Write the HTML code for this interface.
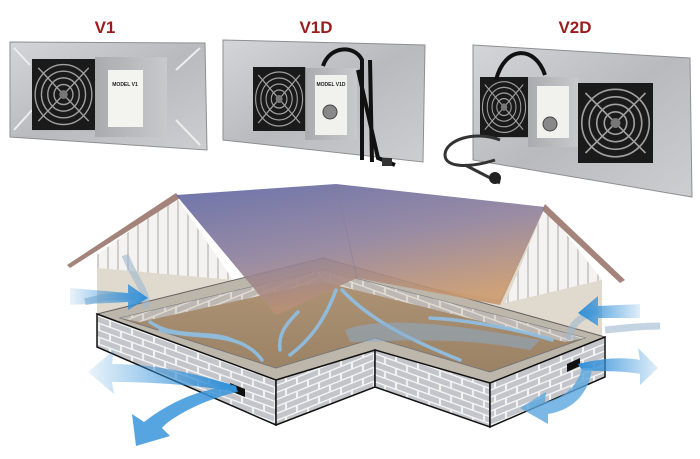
<!DOCTYPE html>
<html><head><style>
html,body{margin:0;padding:0;background:#fff;overflow:hidden;}
svg{display:block}
text{font-family:"Liberation Sans",sans-serif;font-weight:bold;}
</style></head><body>
<svg width="700" height="459" viewBox="0 0 700 459" xmlns="http://www.w3.org/2000/svg">
<defs>
<linearGradient id="plate" x1="0" y1="0" x2="1" y2="1">
<stop offset="0" stop-color="#d4d5d8"/><stop offset="0.5" stop-color="#b8babd"/><stop offset="1" stop-color="#cdced0"/></linearGradient>
<linearGradient id="box" x1="0" y1="0" x2="1" y2="0">
<stop offset="0" stop-color="#a9abae"/><stop offset="1" stop-color="#c8c9cb"/></linearGradient>
<linearGradient id="roof" x1="0" y1="0" x2="0.5" y2="1">
<stop offset="0" stop-color="#5b64a2"/><stop offset="0.55" stop-color="#8e7f9a"/><stop offset="1" stop-color="#c8976a"/></linearGradient>
<linearGradient id="floor" x1="0" y1="0" x2="0" y2="1">
<stop offset="0" stop-color="#b09576"/><stop offset="1" stop-color="#9b8265"/></linearGradient>
<linearGradient id="blueL" x1="1" y1="0" x2="0" y2="0">
<stop offset="0" stop-color="#2f8fd8"/><stop offset="1" stop-color="#2f8fd8" stop-opacity="0.1"/></linearGradient>
<linearGradient id="blueR" x1="0" y1="0" x2="1" y2="0">
<stop offset="0" stop-color="#2f8fd8"/><stop offset="1" stop-color="#2f8fd8" stop-opacity="0.15"/></linearGradient>
<linearGradient id="blueD" x1="0" y1="0" x2="0" y2="1">
<stop offset="0" stop-color="#2f8fd8"/><stop offset="1" stop-color="#2f8fd8" stop-opacity="0.15"/></linearGradient>
<pattern id="brickL" width="22" height="14" patternUnits="userSpaceOnUse" patternTransform="skewY(20)">
<rect width="22" height="14" fill="#f4f4f4"/>
<rect x="1" y="1" width="20" height="5.5" fill="#c4c5cb"/>
<rect x="-10" y="8" width="20" height="5.5" fill="#c4c5cb"/>
<rect x="12" y="8" width="20" height="5.5" fill="#c4c5cb"/>
</pattern>
<pattern id="brickR" width="22" height="14" patternUnits="userSpaceOnUse" patternTransform="skewY(-22)">
<rect width="22" height="14" fill="#f4f4f4"/>
<rect x="1" y="1" width="20" height="5.5" fill="#c4c5cb"/>
<rect x="-10" y="8" width="20" height="5.5" fill="#c4c5cb"/>
<rect x="12" y="8" width="20" height="5.5" fill="#c4c5cb"/>
</pattern>
<pattern id="studs" width="10" height="10" patternUnits="userSpaceOnUse">
<rect width="10" height="10" fill="#f4f3f1"/><rect x="7" width="2" height="10" fill="#cfcdca"/></pattern>
<g id="fan">
<rect x="0" y="0" width="60" height="64" fill="#1a1a1a"/>
<g fill="none" stroke="#a0a0a0" stroke-width="1.3">
<circle cx="30" cy="32" r="27"/><circle cx="30" cy="32" r="21"/><circle cx="30" cy="32" r="15"/><circle cx="30" cy="32" r="9"/>
<line x1="6" y1="8" x2="54" y2="56"/><line x1="54" y1="8" x2="6" y2="56"/></g>
<circle cx="30" cy="32" r="4" fill="#777"/>
</g>
</defs>

<!-- titles -->
<text x="105" y="33" font-size="17" fill="#9b1c1c" text-anchor="middle">V1</text>
<text x="316" y="33" font-size="17" fill="#9b1c1c" text-anchor="middle">V1D</text>
<text x="575" y="33" font-size="17" fill="#9b1c1c" text-anchor="middle">V2D</text>

<!-- V1 -->
<polygon points="10,42 205,43 207,150 10,137" fill="url(#plate)" stroke="#8e8f92"/>
<g stroke="#eee" stroke-width="2"><line x1="14" y1="48" x2="30" y2="65"/><line x1="200" y1="48" x2="176" y2="70"/><line x1="14" y1="130" x2="32" y2="110"/><line x1="200" y1="145" x2="176" y2="120"/></g>
<rect x="95" y="57" width="72" height="80" fill="url(#box)"/>
<use href="#fan" transform="translate(32,59) scale(1.05,1.11)"/>
<rect x="108" y="70" width="35" height="57" fill="#f3f3f0"/>
<text x="125" y="86" font-size="5" fill="#222" text-anchor="middle">MODEL V1</text>

<!-- V1D -->
<polygon points="223,40 425,45 423,162 223,140" fill="url(#plate)" stroke="#8e8f92"/>
<rect x="305" y="68" width="52" height="72" fill="url(#box)"/>
<use href="#fan" transform="translate(253,67) scale(0.87,1.0)"/>
<rect x="315" y="75" width="32" height="60" fill="#f1f1ee"/>
<circle cx="330" cy="112" r="7" fill="#888" stroke="#444"/>
<text x="331" y="86" font-size="5" fill="#222" text-anchor="middle">MODEL V1D</text>
<path d="M323,66 C330,45 355,45 362,60 L362,160 M370,60 L372,162 M358,70 L378,158 L395,165" stroke="#111" stroke-width="4" fill="none"/>
<rect x="382" y="158" width="10" height="8" fill="#333"/>

<!-- V2D -->
<polygon points="473,45 690,58 692,197 473,160" fill="url(#plate)" stroke="#8e8f92"/>
<rect x="528" y="77" width="50" height="70" fill="url(#box)"/>
<use href="#fan" transform="translate(480,77) scale(0.8,0.94)"/>
<rect x="537" y="86" width="32" height="52" fill="#f1f1ee"/>
<circle cx="550" cy="124" r="7" fill="#888" stroke="#444"/>
<use href="#fan" transform="translate(578,83) scale(1.25,1.25)"/>
<path d="M496,80 C505,45 535,45 545,75" stroke="#111" stroke-width="4" fill="none"/>
<path d="M500,140 C475,130 445,140 445,155 C445,168 470,168 495,160 M465,165 L500,183" stroke="#333" stroke-width="3" fill="none"/>
<circle cx="495" cy="178" r="6" fill="#222"/>

<!-- house walls (translucent) -->
<polygon points="97,255 176,197 233,280 360,275 500,300 545,207 602,280 602,337 490,383 375,350 276,380 97,314" fill="#d9d2c6" opacity="0.85"/>
<!-- gables -->
<polygon points="97,255 176,197 233,280 97,268" fill="url(#studs)"/>
<polygon points="545,207 602,280 505,303" fill="url(#studs)"/>
<!-- eaves -->
<polygon points="67,265 176,193 180,198 70,268" fill="#a4847a"/>
<polygon points="545,204 625,280 620,283 542,210" fill="#a4847a"/>

<!-- foundation top ring -->
<polygon points="97,314 323,258 605,337 490,383 375,350 276,380" fill="#bdb6ab" stroke="#666" stroke-width="1"/>
<!-- floor -->
<polygon points="120,318 323,270 585,338 490,372 375,338 276,368" fill="url(#floor)" stroke="#777" stroke-width="1"/>
<!-- back inner brick walls -->
<polygon points="120,318 323,270 323,282 140,322" fill="url(#brickR)" opacity="0.75"/>
<polygon points="323,270 585,338 565,342 323,282" fill="url(#brickL)" opacity="0.75"/>

<!-- foundation walls -->
<polygon points="97,314 276,380 276,425 97,347" fill="url(#brickL)" stroke="#111" stroke-width="1.5"/>
<polygon points="276,380 375,350 375,387 276,425" fill="url(#brickR)" stroke="#111" stroke-width="1.5"/>
<polygon points="375,350 490,383 490,427 375,387" fill="url(#brickL)" stroke="#111" stroke-width="1.5"/>
<polygon points="490,383 605,337 605,377 490,427" fill="url(#brickR)" stroke="#111" stroke-width="1.5"/>
<polygon points="230,383 245,389 245,397 230,391" fill="#111"/>
<polygon points="567,364 580,358 580,366 567,372" fill="#111"/>

<!-- roof -->
<polygon points="176,195 336,184 545,207 500,305 357,278 276,315" fill="url(#roof)" opacity="0.9"/>
<line x1="336" y1="184" x2="357" y2="278" stroke="#8a7e98" stroke-width="1" opacity="0.6"/>

<!-- interior arrows -->
<g fill="none" stroke="#8fc0e6" stroke-width="3.5" opacity="0.9" stroke-linecap="round">
<path d="M150,322 C175,340 210,330 232,340"/>
<path d="M160,330 C200,340 240,330 262,360"/>
<path d="M336,290 C325,320 310,340 290,355"/>
<path d="M342,290 C370,320 410,340 460,360"/>
<path d="M552,340 C520,330 470,320 430,318"/>
<path d="M298,312 C285,325 278,335 280,350"/>
</g>
<path d="M345,330 C380,315 460,325 540,340 L530,350 C450,335 390,342 350,342 Z" fill="#8aaed0" opacity="0.5"/>
<path d="M125,255 C135,280 150,295 145,308 M135,297 C115,295 100,298 85,302" stroke="#9fb8cf" stroke-width="7" fill="none" opacity="0.6"/>
<path d="M598,310 C575,318 568,330 570,340 M605,330 C625,328 640,326 660,326" stroke="#9fb8cf" stroke-width="7" fill="none" opacity="0.6"/>

<!-- outside arrows -->
<path d="M70,288 L128,293 L128,284 L148,298 L128,310 L128,302 L70,305 Z" fill="url(#blueL)"/>
<path d="M640,304 L598,306 L598,296 L578,313 L598,326 L598,318 L640,318 Z" fill="url(#blueR)"/>
<path d="M236,392 C200,385 150,382 112,382 L114,394 L88,372 L114,350 L112,364 C160,364 200,375 236,386 Z" fill="url(#blueL)"/>
<path d="M238,392 C200,400 168,420 162,428 L170,436 L136,446 L132,414 L144,422 C170,402 200,388 236,386 Z" fill="#3a95da" opacity="0.85"/>
<path d="M578,364 C610,356 630,358 640,360 L638,348 L658,368 L640,385 L640,374 C620,370 600,372 582,370 Z" fill="url(#blueR)"/>
<path d="M582,368 C578,385 565,398 545,402 L546,392 L520,408 L548,424 L548,414 C575,410 590,390 592,368 Z" fill="#5aa6de" opacity="0.8"/>
</svg>
</body></html>
